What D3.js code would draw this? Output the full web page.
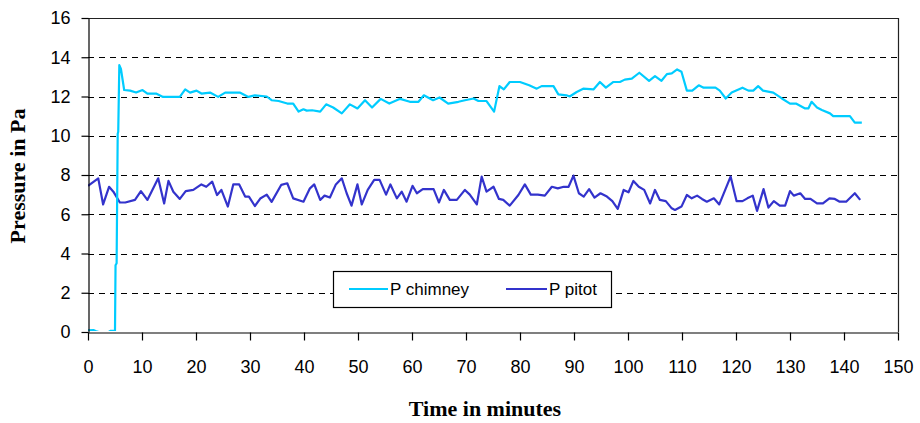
<!DOCTYPE html>
<html>
<head>
<meta charset="utf-8">
<script src="https://cdn.jsdelivr.net/npm/d3@7"></script>
<style>
  html, body { margin: 0; padding: 0; background: #fff; }
  svg { display: block; }
</style>
</head>
<body>
<svg id="chart" width="920" height="423"></svg>
<script>
// ---- data (minutes, Pa) ----
const chimneyTime = [0, 1, 1.4, 2, 3, 3.8, 4.2, 5.0, 5.1, 5.3, 5.5, 5.6, 5.8, 6.1, 6.7, 7.8, 8.9, 10.1, 11.0, 12.6, 13.9, 17.0, 18.0, 18.9, 20.1, 21.0, 22.6, 24.1, 25.4, 28.1, 29.7, 30.9, 33.1, 34.0, 35.3, 36.9, 38.0, 39.0, 39.9, 40.5, 41.5, 43.0, 44.1, 45.4, 47.0, 48.5, 49.9, 51.3, 52.6, 54.2, 55.8, 57.8, 59.6, 61.2, 62.2, 63.9, 65.1, 66.7, 68.6, 69.8, 71.4, 72.3, 73.8, 75.2, 76.2, 77.0, 78.1, 80.0, 81.7, 83.1, 84.0, 86.2, 87.1, 88.6, 89.2, 90.5, 91.7, 93.6, 94.8, 95.9, 97.3, 98.5, 99.4, 100.7, 102.1, 103.9, 105.0, 106.2, 107.2, 108.1, 109.1, 109.9, 110.9, 111.9, 113.1, 114.0, 116.2, 117.0, 118.1, 119.2, 121.2, 122.3, 123.2, 124.1, 125.0, 126.9, 128.5, 130.0, 131.1, 132.8, 133.4, 134.0, 135.0, 135.9, 137.4, 138.0, 141.1, 142.0, 143.3];
const chimneyValues = [0.08, 0.1, 0.05, 0, 0, 0, 0.06, 0.06, 3.4, 3.5, 10.1, 10.2, 13.6, 13.4, 12.33, 12.3, 12.2, 12.33, 12.15, 12.15, 11.98, 11.98, 12.36, 12.2, 12.3, 12.15, 12.2, 11.98, 12.2, 12.2, 11.98, 12.06, 12.0, 11.81, 11.77, 11.64, 11.64, 11.23, 11.35, 11.28, 11.3, 11.23, 11.6, 11.44, 11.14, 11.6, 11.39, 11.81, 11.44, 11.88, 11.64, 11.88, 11.73, 11.73, 12.06, 11.81, 11.95, 11.64, 11.73, 11.81, 11.9, 11.77, 11.77, 11.23, 12.53, 12.36, 12.74, 12.74, 12.57, 12.4, 12.53, 12.53, 12.11, 12.06, 12.0, 12.23, 12.4, 12.36, 12.74, 12.45, 12.74, 12.74, 12.86, 12.91, 13.21, 12.8, 13.04, 12.8, 13.14, 13.18, 13.38, 13.26, 12.3, 12.3, 12.57, 12.45, 12.45, 12.3, 11.9, 12.2, 12.45, 12.3, 12.3, 12.53, 12.3, 12.2, 11.9, 11.64, 11.64, 11.39, 11.39, 11.73, 11.44, 11.31, 11.14, 11.0, 11.0, 10.67, 10.67];

const pitotTime = [0, 1.9, 2.8, 3.9, 4.7, 5.9, 6.9, 8.7, 9.8, 11.0, 13.0, 14.1, 14.9, 15.8, 17.0, 18.1, 19.5, 21.0, 21.9, 23.0, 23.9, 24.7, 25.9, 26.9, 28.0, 29.1, 29.8, 30.9, 31.9, 33.1, 34.0, 35.8, 36.9, 38.0, 39.9, 41.1, 41.9, 43.0, 43.8, 44.8, 45.9, 47.0, 47.9, 48.8, 49.9, 50.7, 51.8, 53.0, 54.0, 55.2, 56.0, 57.2, 58.1, 59.0, 60.1, 60.9, 62.0, 64.0, 65.0, 65.9, 67.0, 68.3, 69.8, 70.7, 72.0, 72.9, 73.8, 75.1, 76.1, 76.9, 78.1, 79.7, 80.9, 82.0, 83.3, 84.6, 85.9, 87.0, 88.1, 89.0, 89.9, 90.9, 91.8, 92.8, 93.8, 94.9, 96.1, 97.1, 98.1, 99.2, 100.1, 101.0, 102.0, 103.0, 104.1, 105.0, 105.9, 107.0, 108.1, 108.7, 109.9, 110.9, 111.8, 112.8, 113.7, 114.6, 115.9, 116.9, 118.0, 119.0, 120.1, 121.2, 122.1, 123.1, 123.9, 125.1, 126.0, 127.0, 128.1, 129.1, 130.0, 130.7, 131.9, 132.8, 133.8, 135.0, 136.1, 137.3, 138.3, 139.2, 140.4, 142.0, 143.0];
const pitotValues = [7.45, 7.83, 6.5, 7.4, 7.15, 6.6, 6.6, 6.73, 7.18, 6.73, 7.83, 6.55, 7.7, 7.15, 6.78, 7.18, 7.24, 7.52, 7.4, 7.66, 6.98, 7.24, 6.39, 7.52, 7.52, 6.9, 6.9, 6.42, 6.8, 7.0, 6.63, 7.5, 7.58, 6.81, 6.64, 7.32, 7.52, 6.73, 6.95, 6.85, 7.52, 7.83, 7.07, 6.44, 7.52, 6.5, 7.24, 7.75, 7.75, 7.0, 7.52, 6.81, 7.15, 6.64, 7.45, 7.07, 7.28, 7.28, 6.6, 7.24, 6.73, 6.73, 7.24, 7.0, 6.5, 7.92, 7.15, 7.4, 6.78, 6.73, 6.44, 6.98, 7.52, 7.0, 7.0, 6.95, 7.4, 7.32, 7.4, 7.4, 7.97, 7.07, 6.9, 7.28, 6.85, 7.07, 6.9, 6.67, 6.27, 7.24, 7.12, 7.7, 7.4, 7.24, 6.55, 7.24, 6.73, 6.67, 6.3, 6.22, 6.39, 6.98, 6.81, 6.95, 6.78, 6.64, 6.81, 6.5, 7.24, 7.92, 6.67, 6.67, 6.81, 6.95, 6.17, 7.28, 6.34, 6.67, 6.44, 6.44, 7.18, 6.95, 7.07, 6.78, 6.78, 6.55, 6.55, 6.81, 6.78, 6.64, 6.64, 7.07, 6.73];

const xTicks = [0, 10, 20, 30, 40, 50, 60, 70, 80, 90, 100, 110, 120, 130, 140, 150];
const yTicks = [0, 2, 4, 6, 8, 10, 12, 14, 16];
const gridValues = [2, 4, 6, 8, 10, 12, 14];
const seriesNames = ["P chimney", "P pitot"];
const seriesColors = ["#00CCFF", "#3333CC"];
const xTitle = "Time in minutes";
const yTitle = "Pressure in Pa";

// ---- layout ----
const L = 88, R = 898, T = 18, B = 332;
const svg = d3.select("#chart");
const x = d3.scaleLinear().domain([0, 150]).range([L, R]);
const y = d3.scaleLinear().domain([0, 16]).range([B, T]);

svg.append("defs").append("clipPath").attr("id", "plotClip")
  .append("rect").attr("x", L).attr("y", T).attr("width", R - L).attr("height", B - 1 - T);

// gridlines
svg.append("g").selectAll("line").data(gridValues).join("line")
  .attr("x1", L).attr("x2", R)
  .attr("y1", d => Math.round(y(d)) + 0.5).attr("y2", d => Math.round(y(d)) + 0.5)
  .attr("stroke", "#000").attr("stroke-width", 1)
  .attr("stroke-dasharray", "6,5");

// plot frame (top/right)
svg.append("path")
  .attr("d", `M${L},${T + 0.5}H${R + 0.5}V${B}`)
  .attr("fill", "none").attr("stroke", "#222").attr("stroke-width", 1.2);

// series
const line = d3.line().x(d => x(d[0])).y(d => y(d[1]));
const pitot = pitotTime.map((t, i) => [t, pitotValues[i]]);
const chimney = chimneyTime.map((t, i) => [t, chimneyValues[i]]);
const series = svg.append("g").attr("clip-path", "url(#plotClip)");
series.append("path").datum(pitot).attr("d", line)
  .attr("fill", "none").attr("stroke", seriesColors[1]).attr("stroke-width", 2.2)
  .attr("stroke-linejoin", "round");
series.append("path").datum(chimney).attr("d", line)
  .attr("fill", "none").attr("stroke", seriesColors[0]).attr("stroke-width", 2.2)
  .attr("stroke-linejoin", "round");

// axes
const fontTick = "'Liberation Sans', Arial, sans-serif";
const yAxis = svg.append("g").attr("transform", `translate(${L + 0.5},0)`)
  .call(d3.axisLeft(y).tickValues(yTicks).tickSize(7).tickSizeOuter(0).tickPadding(11).tickFormat(d3.format("d")));
const xAxis = svg.append("g").attr("transform", `translate(0,${B + 0.5})`)
  .call(d3.axisBottom(x).tickValues(xTicks).tickSize(8).tickSizeOuter(0).tickPadding(20).tickFormat(d3.format("d")));
[yAxis, xAxis].forEach(g => {
  g.select(".domain").attr("stroke", "#000").attr("stroke-width", 1.2);
  g.selectAll(".tick line").attr("stroke", "#000").attr("stroke-width", 1.2);
  g.selectAll(".tick text").attr("fill", "#000")
    .style("font-family", fontTick).style("font-size", "18px");
});

// axis titles
svg.append("text").attr("x", 485).attr("y", 416)
  .attr("text-anchor", "middle")
  .style("font-family", "'Liberation Serif', 'Times New Roman', serif")
  .style("font-weight", "bold").style("font-size", "22px")
  .text(xTitle);
svg.append("text")
  .attr("transform", "translate(25,176) rotate(-90)")
  .attr("text-anchor", "middle")
  .style("font-family", "'Liberation Serif', 'Times New Roman', serif")
  .style("font-weight", "bold").style("font-size", "22px")
  .text(yTitle);

// legend
const leg = svg.append("g");
leg.append("rect").attr("x", 333.5).attr("y", 271.5).attr("width", 278).attr("height", 36)
  .attr("fill", "#fff").attr("stroke", "#000").attr("stroke-width", 1.2);
const legItems = [
  { name: seriesNames[0], color: seriesColors[0], x1: 349, x2: 388 },
  { name: seriesNames[1], color: seriesColors[1], x1: 506, x2: 547 }
];
legItems.forEach(it => {
  leg.append("line").attr("x1", it.x1).attr("x2", it.x2).attr("y1", 289).attr("y2", 289)
    .attr("stroke", it.color).attr("stroke-width", 2.2);
  leg.append("text").attr("x", it.x2 + 2).attr("y", 295)
    .style("font-family", fontTick).style("font-size", "17px").attr("fill", "#000")
    .text(it.name);
});
</script>
</body>
</html>
